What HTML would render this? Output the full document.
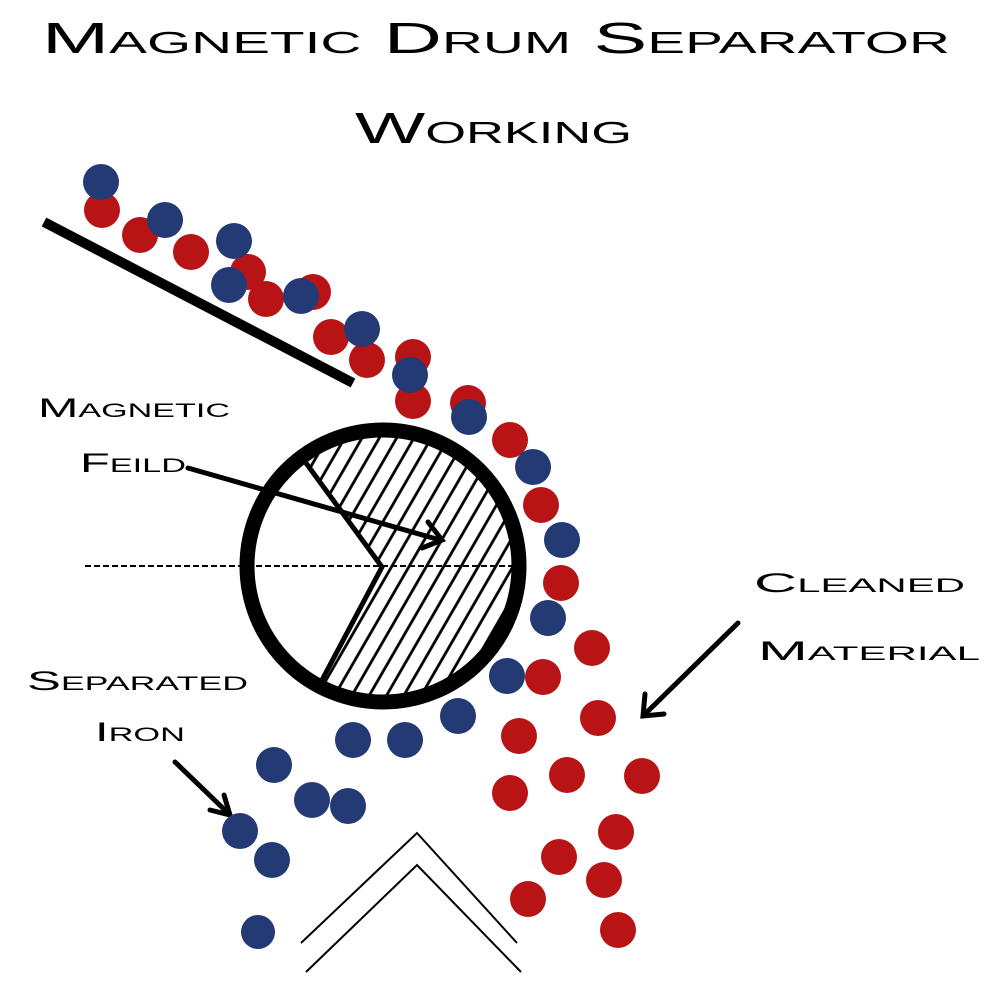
<!DOCTYPE html>
<html><head><style>body{margin:0;background:#fff}svg{display:block}</style></head>
<body>
<svg width="1000" height="1000" viewBox="0 0 1000 1000" xmlns="http://www.w3.org/2000/svg">
<defs>
<pattern id="h" patternUnits="userSpaceOnUse" width="15" height="40" patternTransform="rotate(30)">
<line x1="7.5" y1="0" x2="7.5" y2="40" stroke="#000" stroke-width="2.8"/>
</pattern>
<clipPath id="circ"><circle cx="383" cy="566" r="132"/></clipPath>
<clipPath id="sec"><polygon points="382,567 233,363 600,300 700,900 250,815"/></clipPath>
</defs>
<g font-family="Liberation Sans, sans-serif" style="font-variant:small-caps" fill="#000">
<text x="42" y="53" font-size="44" textLength="908" lengthAdjust="spacingAndGlyphs">Magnetic Drum Separator</text>
<text x="355" y="143" font-size="44" textLength="277" lengthAdjust="spacingAndGlyphs">Working</text>
<text x="38" y="417" font-size="27" textLength="192" lengthAdjust="spacingAndGlyphs">Magnetic</text>
<text x="80" y="472" font-size="27" textLength="106" lengthAdjust="spacingAndGlyphs">Feild</text>
<text x="754" y="592" font-size="27" textLength="211" lengthAdjust="spacingAndGlyphs">Cleaned</text>
<text x="758" y="660" font-size="27" textLength="222" lengthAdjust="spacingAndGlyphs">Material</text>
<text x="27" y="690" font-size="27" textLength="221" lengthAdjust="spacingAndGlyphs">Separated</text>
<text x="95" y="741" font-size="27" textLength="90" lengthAdjust="spacingAndGlyphs">Iron</text>
</g>
<line x1="44" y1="222" x2="353" y2="383" stroke="#000" stroke-width="10"/>
<g clip-path="url(#circ)"><rect x="0" y="0" width="1000" height="1000" fill="url(#h)" clip-path="url(#sec)"/></g>
<line x1="85" y1="566" x2="515" y2="566" stroke="#000" stroke-width="2" stroke-dasharray="6,3"/>
<polyline points="306,463 382,567 322,680" fill="none" stroke="#000" stroke-width="5"/>
<circle cx="383" cy="566" r="136" fill="none" stroke="#000" stroke-width="15"/>
<g stroke="#000" stroke-width="5" fill="none" stroke-linecap="round">
<line x1="188" y1="468" x2="440" y2="540"/><polyline points="428,522 442,540 422,548"/>
<line x1="175" y1="762" x2="228" y2="813"/><polyline points="224,795 230,815 210,810"/>
<line x1="738" y1="623" x2="645" y2="714"/><polyline points="645,694 643,716 664,714"/>
</g>
<g fill="none" stroke="#000" stroke-width="2">
<polyline points="301,943 417,833 517,943"/>
<polyline points="306,972 417,865 521,972"/>
</g>
<g fill="#b81416">
<circle cx="102" cy="210" r="18"/><circle cx="140" cy="235" r="18"/><circle cx="191" cy="252" r="18"/><circle cx="248" cy="272" r="18"/><circle cx="313" cy="292" r="18"/><circle cx="266" cy="299" r="18"/><circle cx="331" cy="337" r="18"/><circle cx="367" cy="360" r="18"/><circle cx="413" cy="357" r="18"/><circle cx="413" cy="401" r="18"/><circle cx="468" cy="403" r="18"/><circle cx="510" cy="440" r="18"/><circle cx="541" cy="505" r="18"/><circle cx="561" cy="583" r="18"/><circle cx="592" cy="648" r="18"/><circle cx="543" cy="677" r="18"/><circle cx="598" cy="718" r="18"/><circle cx="519" cy="736" r="18"/><circle cx="567" cy="775" r="18"/><circle cx="642" cy="776" r="18"/><circle cx="510" cy="793" r="18"/><circle cx="616" cy="832" r="18"/><circle cx="559" cy="857" r="18"/><circle cx="604" cy="880" r="18"/><circle cx="528" cy="899" r="18"/><circle cx="618" cy="930" r="18"/>
</g>
<g fill="#243a74">
<circle cx="101" cy="182" r="18"/><circle cx="165" cy="220" r="18"/><circle cx="234" cy="241" r="18"/><circle cx="229" cy="285" r="18"/><circle cx="301" cy="296" r="18"/><circle cx="362" cy="329" r="18"/><circle cx="410" cy="375" r="18"/><circle cx="469" cy="417" r="18"/><circle cx="533" cy="467" r="18"/><circle cx="562" cy="540" r="18"/><circle cx="548" cy="618" r="18"/><circle cx="507" cy="676" r="18"/><circle cx="458" cy="716" r="18"/><circle cx="405" cy="740" r="18"/><circle cx="353" cy="740" r="18"/><circle cx="274" cy="765" r="18"/><circle cx="312" cy="800" r="18"/><circle cx="348" cy="806" r="18"/><circle cx="240" cy="831" r="18"/><circle cx="272" cy="860" r="18"/><circle cx="258" cy="932" r="17"/>
</g>
</svg>
</body></html>
